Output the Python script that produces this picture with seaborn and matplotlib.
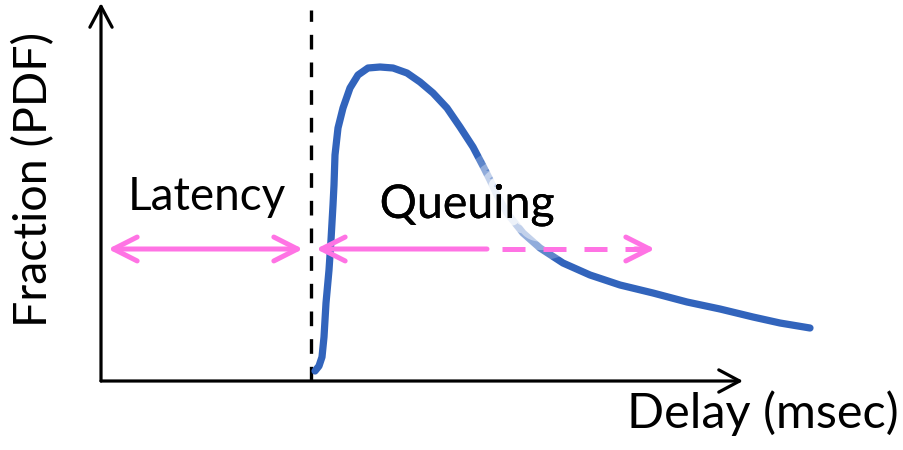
import matplotlib
matplotlib.use("Agg")
import matplotlib.pyplot as plt
from matplotlib.patches import ArrowStyle
import matplotlib.patheffects as pe
import seaborn as sns
import pandas as pd

# Delay / fraction sample points of the illustrative PDF (arbitrary units)
delay = [214, 218, 221, 223, 225, 228, 230, 232, 233, 234, 237, 242, 249, 257,
         267, 279, 292, 306, 319, 332, 346, 359, 372, 382, 389, 396, 406, 422,
         439, 462, 489, 519, 552, 586, 619, 652, 679, 709]
fraction = [10, 15, 24, 44, 78, 111, 141, 176, 196, 226, 253, 273, 293, 306,
            313, 314, 313, 308, 299, 288, 273, 254, 234, 215, 201, 186, 168, 148,
            133, 118, 106, 96, 88, 79, 72, 64, 58, 53]

# Annotation geometry (same units)
x_axis_end = 642
y_axis_end = 378
base_latency = 210          # propagation latency boundary
arrow_level = 132
latency_span = (7, 202)
queue_solid = (215, 386)
queue_dashed_end = 554

labels = {"latency": "Latency", "queuing": "Queuing",
          "x": "Delay (msec)", "y": "Fraction (PDF)"}

BLUE = "#3264BC"
PINK = "#FF73E4"
FONT = "Lato"

sns.set_theme(style="white")
plt.rcParams["font.family"] = [FONT, "DejaVu Sans"]

fig = plt.figure(figsize=(9.04, 4.5), dpi=100)
ax = fig.add_axes([0, 0, 1, 1])
ax.set_xlim(-101, 803)
ax.set_ylim(-69, 381)
ax.axis("off")

df = pd.DataFrame({"delay": delay, "fraction": fraction})
sns.lineplot(data=df, x="delay", y="fraction", sort=False, estimator=None,
             color=BLUE, lw=5.2, ax=ax, zorder=2,
             solid_capstyle="round", solid_joinstyle="round")


def arrow(x0, y0, x1, y1, style, color, lw, hl, hw, z=5):
    ax.annotate("", xy=(x1, y1), xytext=(x0, y0),
                arrowprops=dict(arrowstyle=ArrowStyle(style, head_length=hl,
                                                      head_width=hw),
                                color=color, lw=lw, shrinkA=0, shrinkB=0,
                                mutation_scale=1, capstyle="round",
                                joinstyle="round"),
                zorder=z)


# axes with open arrow heads
arrow(0, 0, 0, y_axis_end, "->", "black", 2.3, 15, 8)
arrow(0, 0, x_axis_end, 0, "->", "black", 2.3, 15, 8)

# base latency divider
ax.plot([base_latency, base_latency], [0, 371], color="black", lw=2.4,
        ls=(0, (4.4, 3.9)), zorder=1)

# latency and queuing spans
arrow(latency_span[0], arrow_level, latency_span[1], arrow_level, "<->",
      PINK, 3.6, 17, 8.6)
arrow(queue_solid[1], arrow_level, queue_solid[0], arrow_level, "->",
      PINK, 3.6, 17, 8.6)
ax.plot([queue_solid[1], queue_dashed_end - 10], [arrow_level, arrow_level],
        color=PINK, lw=3.6, ls=(5.2, (4.6, 3.6)), zorder=5)
arrow(queue_dashed_end - 20, arrow_level, queue_dashed_end, arrow_level, "->",
      PINK, 3.6, 17, 8.6)

# soft white halo behind the queuing label
glow = [pe.withStroke(linewidth=48, foreground="white", alpha=0.22),
        pe.withStroke(linewidth=34, foreground="white", alpha=0.32),
        pe.withStroke(linewidth=22, foreground="white", alpha=0.45),
        pe.withStroke(linewidth=11, foreground="white", alpha=0.7),
        pe.Normal()]

ax.text(106, 171, labels["latency"], fontsize=33, ha="center",
        va="baseline", color="black", zorder=4)
ax.text(366, 163, labels["queuing"], fontsize=33.5, ha="center",
        va="baseline", color="black", zorder=4, path_effects=glow)
ax.text(662, -47, labels["x"], fontsize=35, ha="center", va="baseline",
        color="black", zorder=4)
ax.text(-67, 202, labels["y"], fontsize=33.5, ha="center", va="center",
        rotation=90, color="black", zorder=4)

fig.savefig("out.png", dpi=100, facecolor="white")
